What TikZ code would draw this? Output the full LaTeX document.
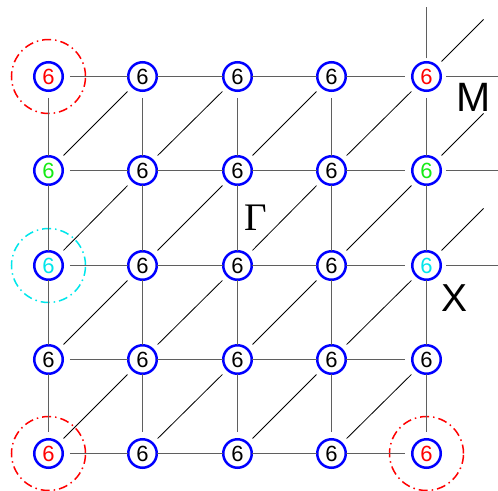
\documentclass[tikz,border=0pt]{standalone}
\usepackage{fontspec}
\setmainfont{Liberation Sans}
\newfontfamily\gammafont{Liberation Serif}
\definecolor{grn}{RGB}{20,235,20}
\definecolor{cyn}{RGB}{0,230,235}
\definecolor{bondgray}{RGB}{95,95,95}
\begin{document}
\begin{tikzpicture}[x=1pt,y=-1pt,
  site/.style={circle, draw=blue, line width=2.5pt, fill=white, minimum size=28.5pt, inner sep=0pt, outer sep=0pt, font=\fontsize{22}{22}\selectfont},
  bond/.style={draw=bondgray, line width=1.2pt},
  diag/.style={draw=black, line width=0.8pt, shorten <=7pt, shorten >=7pt},
  ring/.style={line width=1.5pt, dash pattern=on 9pt off 4pt on 1.5pt off 4pt},
  biglabel/.style={font=\fontsize{41}{41}\selectfont, inner sep=0pt}]
\useasboundingbox (0,0) rectangle (498,490);
% sites
\foreach \r/\y/\ca/\cb in {1/76.5/red/red, 2/170.5/grn/grn, 3/265.5/cyn/cyn, 4/359.5/black/black, 5/453.5/red/red}{
  \node[site, text=\ca] (n\r1) at (48.5,\y) {6};
  \node[site] (n\r2) at (142.5,\y) {6};
  \node[site] (n\r3) at (237.5,\y) {6};
  \node[site] (n\r4) at (331.5,\y) {6};
  \node[site, text=\cb] (n\r5) at (426.5,\y) {6};
}
% rings
\draw[ring, red] (n11) circle (37pt);
\draw[ring, cyn] (n31) circle (37pt);
\draw[ring, red] (n51) circle (37pt);
\draw[ring, red] (n55) circle (37pt);
% horizontal bonds
\foreach \r in {1,...,5}{
  \draw[bond, shorten <=7pt] (n\r1) -- (n\r2);
  \draw[bond] (n\r2) -- (n\r3);
  \draw[bond] (n\r3) -- (n\r4);
  \draw[bond, shorten >=7pt] (n\r4) -- (n\r5);
}
% vertical bonds
\foreach \c in {1,...,5}{
  \draw[bond, shorten <=7pt] (n1\c) -- (n2\c);
  \draw[bond] (n2\c) -- (n3\c);
  \draw[bond] (n3\c) -- (n4\c);
  \draw[bond, shorten >=7pt] (n4\c) -- (n5\c);
}
% diagonal bonds
\foreach \r/\s in {2/1,3/2,4/3,5/4}{
  \foreach \c/\d in {1/2,2/3,3/4,4/5}{
    \draw[diag] (n\r\c) -- (n\s\d);
  }
}
% open bonds at the right and top edges
\coordinate (up) at (426.5,7);
\draw[bond, shorten <=4pt] (n15) -- (up);
\foreach \r/\y in {1/76.5,2/170.5,3/265.5}{
  \coordinate (rt\r) at (498,\y);
  \coordinate (dg\r) at ([shift={(57,-57)}]n\r5.center);
  \draw[bond, shorten <=5pt] (n\r5) -- (rt\r);
  \draw[draw=black, line width=0.8pt, shorten <=7pt] (n\r5) -- (dg\r);
}
% labels
\node[biglabel] (M) at (474,97) {M};
\node[biglabel, font=\fontsize{39}{39}\selectfont] (X) at (455,298) {X};
\node[inner sep=0pt, font=\gammafont\fontsize{39}{39}\selectfont] (G) at (256,218) {Γ};
\end{tikzpicture}
\end{document}
